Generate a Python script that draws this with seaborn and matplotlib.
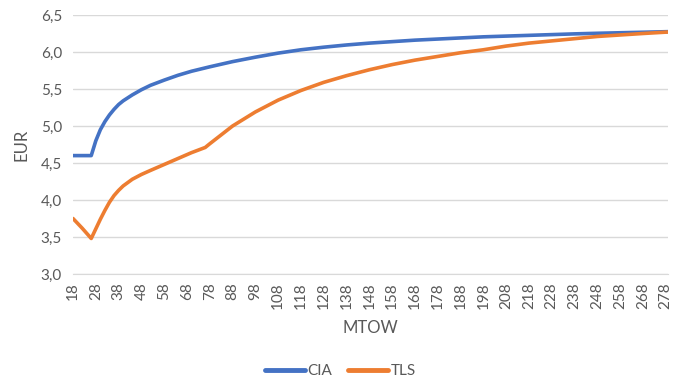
import pandas as pd
import matplotlib
matplotlib.use("Agg")
import matplotlib.pyplot as plt
import seaborn as sns

# values
mtow = [18, 22, 26, 28, 30, 32, 34, 36, 38, 40, 44, 48, 52, 58, 64, 70, 76, 78,
        88, 98, 108, 118, 128, 138, 148, 158, 168, 178, 188, 198, 208, 218, 228,
        238, 248, 258, 268, 279]
cia = [4.60, 4.60, 4.60, 4.80, 4.95, 5.06, 5.15, 5.225, 5.29, 5.34, 5.42, 5.49,
       5.55, 5.62, 5.685, 5.74, 5.785, 5.80, 5.87, 5.93, 5.985, 6.03, 6.065,
       6.095, 6.12, 6.14, 6.16, 6.175, 6.19, 6.205, 6.215, 6.225, 6.235, 6.245,
       6.253, 6.26, 6.267, 6.275]
tls = [3.75, 3.62, 3.48, 3.61, 3.74, 3.86, 3.97, 4.06, 4.13, 4.19, 4.28, 4.345,
       4.40, 4.48, 4.56, 4.64, 4.71, 4.76, 5.00, 5.19, 5.35, 5.48, 5.59, 5.68,
       5.76, 5.83, 5.89, 5.94, 5.99, 6.03, 6.08, 6.12, 6.15, 6.18, 6.21, 6.23,
       6.25, 6.27]
x_ticks = list(range(18, 279, 10))
y_ticks = [3.0, 3.5, 4.0, 4.5, 5.0, 5.5, 6.0, 6.5]

df = pd.DataFrame({"MTOW": mtow * 2,
                   "EUR": cia + tls,
                   "series": ["CIA"] * len(mtow) + ["TLS"] * len(mtow)})

sns.set_style("white")
plt.rcParams["font.family"] = ["Lato", "DejaVu Sans"]
text_color = "#595959"

fig = plt.figure(figsize=(6.74, 3.80), dpi=100)
ax = fig.add_axes([73 / 674, 1 - 274 / 380, (668 - 73) / 674, (274 - 15) / 380])

sns.lineplot(data=df, x="MTOW", y="EUR", hue="series", ax=ax,
             palette={"CIA": "#4472C4", "TLS": "#ED7D31"}, linewidth=2.6,
             legend=False)

ax.set_xlim(18, 279)
ax.set_ylim(3.0, 6.5)
ax.set_xticks(x_ticks)
ax.set_xticklabels([str(t) for t in x_ticks], rotation=90)
ax.set_yticks(y_ticks)
ax.set_yticklabels([f"{v:.1f}".replace(".", ",") for v in y_ticks])
ax.tick_params(axis="both", length=0, labelsize=11, labelcolor=text_color)
ax.tick_params(axis="x", pad=6)
ax.tick_params(axis="y", pad=8)

ax.yaxis.grid(True, color="#D9D9D9", linewidth=1)
ax.set_axisbelow(True)
for side in ["top", "right", "left"]:
    ax.spines[side].set_visible(False)
ax.spines["bottom"].set_color("#D9D9D9")

ax.set_xlabel("MTOW", fontsize=12, color=text_color, labelpad=8)
ax.set_ylabel("EUR", fontsize=12, color=text_color, labelpad=8)

# legend below the chart
handles = [plt.Line2D([], [], color="#4472C4", linewidth=3.5),
           plt.Line2D([], [], color="#ED7D31", linewidth=3.5)]
fig.legend(handles, ["CIA", "TLS"], loc="center", bbox_to_anchor=(0.505, 1 - 371 / 380),
           ncol=2, frameon=False, fontsize=11, labelcolor=text_color,
           handlelength=2.6, handletextpad=0.2, columnspacing=1.0)

plt.savefig("out.png", dpi=100)
